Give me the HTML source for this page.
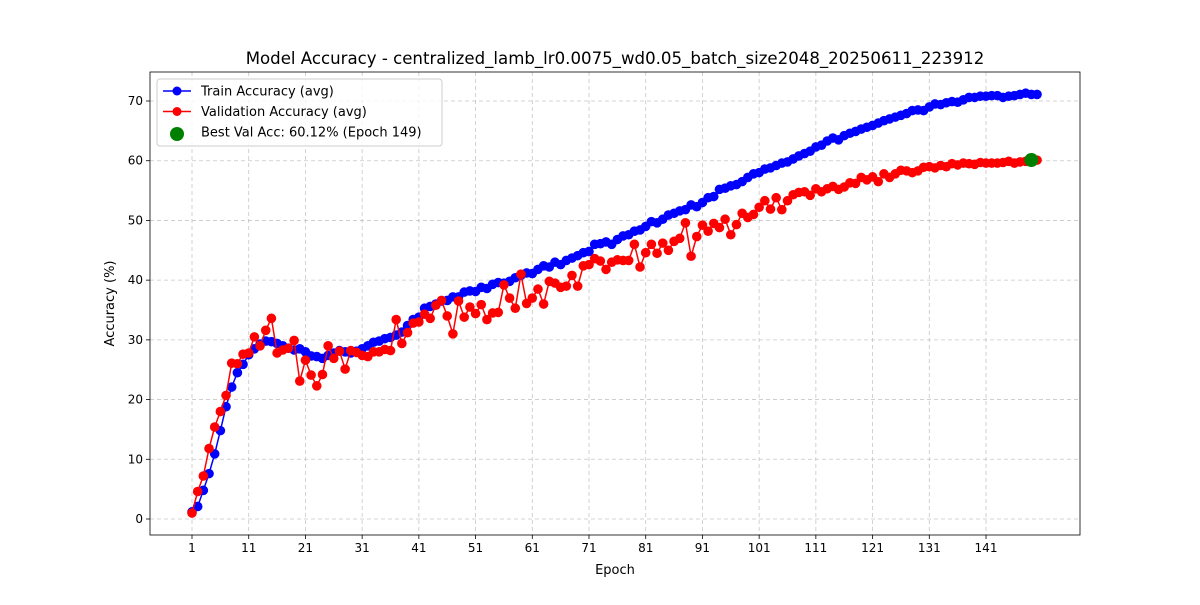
<!DOCTYPE html>
<html><head><meta charset="utf-8"><style>
body{margin:0;background:#fff}
svg text{font-family:"DejaVu Sans","Liberation Sans",sans-serif;fill:#000}
</style></head><body>
<svg id="c" width="1200" height="600" xmlns="http://www.w3.org/2000/svg"></svg>
<script>
const train=[1.2,2.1,4.8,7.6,10.9,14.8,18.8,22.1,24.5,25.9,27.5,28.5,29.3,29.8,29.7,29.4,29.0,28.6,28.3,28.5,28.0,27.3,27.2,26.9,27.4,27.8,28.2,28.0,27.8,28.1,28.5,29.0,29.6,29.8,30.2,30.4,30.8,31.3,32.4,33.4,33.8,35.3,35.6,36.0,36.5,36.6,37.2,37.2,38.0,38.2,38.1,38.8,38.6,39.3,39.6,39.5,39.8,40.4,40.8,41.2,41.1,41.8,42.4,42.2,43.0,42.6,43.3,43.7,44.1,44.6,44.8,46.0,46.1,46.4,46.0,46.8,47.4,47.6,48.2,48.4,49.0,49.8,49.6,50.2,50.9,51.2,51.6,51.8,52.6,52.3,53.0,53.8,54.0,55.2,55.4,55.8,56.0,56.5,57.2,57.8,58.0,58.6,58.8,59.2,59.6,59.8,60.3,60.8,61.2,61.6,62.3,62.6,63.3,63.8,63.5,64.2,64.6,64.9,65.3,65.6,65.9,66.3,66.7,67.0,67.3,67.6,67.9,68.4,68.5,68.4,69.0,69.5,69.4,69.7,69.9,69.8,70.2,70.6,70.6,70.8,70.8,70.9,70.9,70.6,70.8,70.9,71.1,71.3,71.1,71.1];
const val=[1.0,4.6,7.2,11.8,15.4,18.0,20.7,26.1,26.0,27.6,27.8,30.5,29.0,31.6,33.6,27.8,28.3,28.6,29.9,23.1,26.6,24.1,22.3,24.2,29.0,26.9,28.1,25.1,28.2,27.9,27.4,27.2,28.0,28.0,28.4,28.2,33.4,29.4,31.2,32.8,33.0,34.3,33.6,35.8,36.6,34.0,31.0,36.5,33.8,35.5,34.4,35.9,33.4,34.5,34.6,39.2,37.0,35.3,41.0,36.1,37.0,38.5,36.0,39.8,39.5,38.8,39.0,40.8,39.0,42.4,42.6,43.6,43.2,41.8,43.0,43.4,43.3,43.3,46.0,42.2,44.6,46.0,44.5,46.2,45.0,46.5,47.0,49.6,44.0,47.3,49.2,48.2,49.5,48.8,50.2,47.6,49.3,51.2,50.5,51.0,52.2,53.3,51.9,53.8,51.8,53.3,54.3,54.7,54.8,54.2,55.3,54.8,55.3,55.7,55.2,55.6,56.3,56.2,57.2,56.8,57.3,56.5,57.8,57.2,57.8,58.4,58.3,58.0,58.3,58.9,59.0,58.8,59.2,59.0,59.5,59.3,59.6,59.5,59.4,59.7,59.6,59.6,59.6,59.7,59.9,59.6,59.8,59.9,60.12,60.1];
const xTicks=[1,11,21,31,41,51,61,71,81,91,101,111,121,131,141];
const yTicks=[0,10,20,30,40,50,60,70];
const bestEpoch=149, bestVal=60.12;

const L=150,R=1080,T=72,B=535;
const x=e=>192+(e-1)*(986-192)/140;
const y=v=>519-v*(519-101)/70;
const s=document.getElementById('c');
const NS='http://www.w3.org/2000/svg';
function mk(t,a,p){const el=document.createElementNS(NS,t);for(const k in a)el.setAttribute(k,a[k]);(p||s).appendChild(el);return el;}

const grid=mk('g',{});


xTicks.forEach(t=>{
  mk('line',{x1:x(t),x2:x(t),y1:T,y2:B,stroke:'#b0b0b0','stroke-width':0.8,'stroke-dasharray':'4,3',opacity:0.7},grid);
  mk('line',{x1:x(t),x2:x(t),y1:B,y2:B+4,stroke:'#000','stroke-width':0.8});
  const tx=mk('text',{x:x(t),y:B+17,'text-anchor':'middle','font-size':12});
  tx.textContent=t;
  
  
});
yTicks.forEach(t=>{
  mk('line',{x1:L,x2:R,y1:y(t),y2:y(t),stroke:'#b0b0b0','stroke-width':0.8,'stroke-dasharray':'4,3',opacity:0.7},grid);
  mk('line',{x1:L-4,x2:L,y1:y(t),y2:y(t),stroke:'#000','stroke-width':0.8});
  const tx=mk('text',{x:L-7,y:y(t)+4,'text-anchor':'end','font-size':12});
  tx.textContent=t;
  
  
});

function series(arr,col,name){
  const g=mk('g',{});
  
  
  mk('polyline',{points:arr.map((v,i)=>x(i+1)+','+y(v)).join(' '),fill:'none',stroke:col,'stroke-width':1.5},g);
  arr.forEach((v,i)=>{
    const c=mk('circle',{cx:x(i+1),cy:y(v),r:4.8,fill:col},g);
    
    
  });
}
series(train,'#0000ff','train-accuracy-series');
series(val,'#ff0000','validation-accuracy-series');
const best=mk('circle',{cx:x(bestEpoch),cy:y(bestVal),r:7,fill:'#008000'});



const frame=mk('rect',{x:L,y:T,width:R-L,height:B-T,fill:'none',stroke:'#000','stroke-width':0.8});



const title=mk('text',{x:(L+R)/2,y:64,'text-anchor':'middle','font-size':16.6});
title.textContent='Model Accuracy - centralized_lamb_lr0.0075_wd0.05_batch_size2048_20250611_223912';


const xl=mk('text',{x:(L+R)/2,y:574,'text-anchor':'middle','font-size':13});
xl.textContent='Epoch';


const yl=mk('text',{x:0,y:0,'text-anchor':'middle','font-size':13,transform:'translate(114,'+((T+B)/2)+') rotate(-90)'});
yl.textContent='Accuracy (%)';



const lg=mk('g',{});


mk('rect',{x:157,y:79,width:285,height:67,rx:3,fill:'#fff','fill-opacity':0.8,stroke:'#ccc'},lg);
const items=[['Train Accuracy (avg)','#0000ff',true],['Validation Accuracy (avg)','#ff0000',true],['Best Val Acc: 60.12% (Epoch 149)','#008000',false]];
items.forEach((it,i)=>{
  const yy=91+i*20.5;
  const e=mk('g',{},lg);
  
  
  if(it[2]){mk('line',{x1:163,x2:191,y1:yy,y2:yy,stroke:it[1],'stroke-width':1.5},e);mk('circle',{cx:177,cy:yy,r:4.5,fill:it[1]},e);}
  else mk('circle',{cx:177,cy:yy+2,r:7,fill:it[1]},e);
  const t=mk('text',{x:201,y:yy+4.5,'font-size':13},e);t.textContent=it[0];
});
</script>
</body></html>
